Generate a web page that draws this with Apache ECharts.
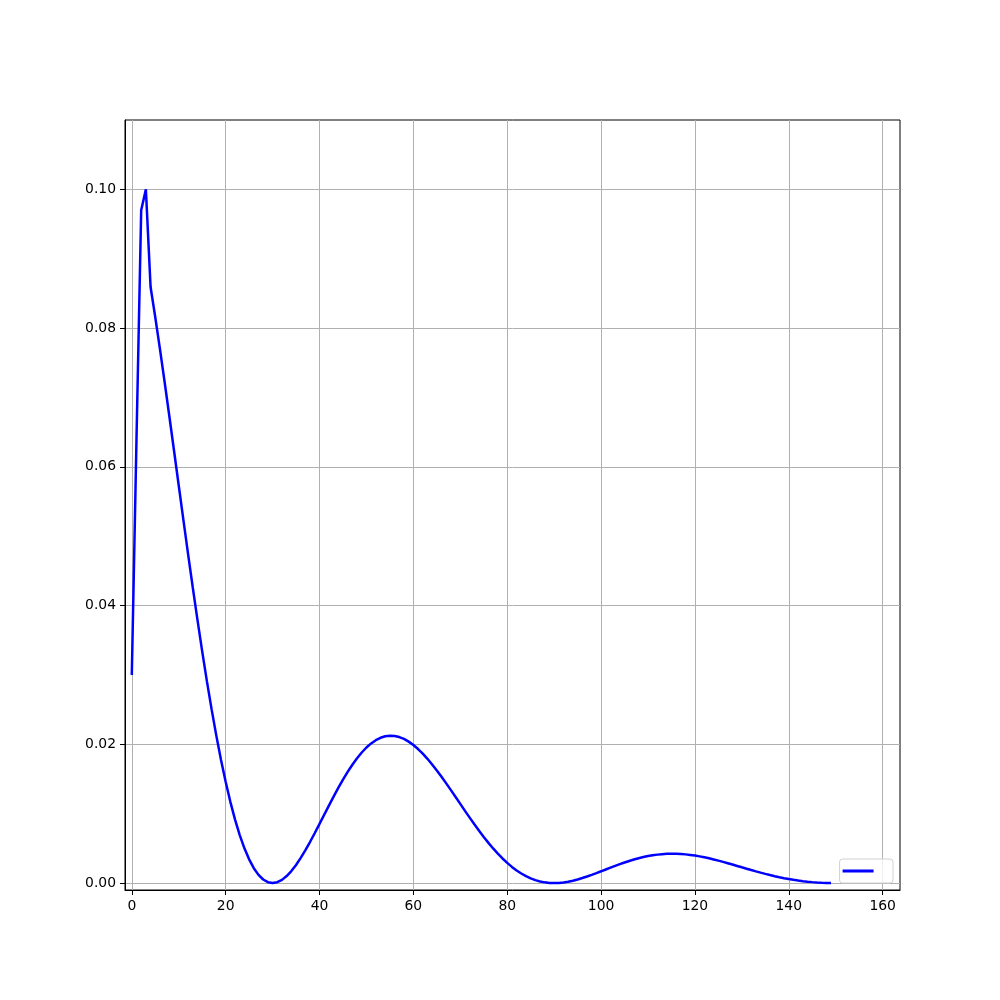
<!DOCTYPE html>
<html>
<head>
<meta charset="utf-8">
<script src="https://cdn.jsdelivr.net/npm/echarts@6/dist/echarts.min.js"></script>
<style>html,body{margin:0;padding:0;background:#fff}#c{width:1000px;height:1000px}</style>
</head>
<body>
<div id="c"></div>
<script>
// y-values at x = 0, 1, 2, ... 149
const values = [
0.030,0.064,0.097,0.100,0.08592,0.08156,0.07697,0.07220,0.06730,0.06232,
0.05731,0.05232,0.04739,0.04257,0.03790,0.03340,0.02911,0.02507,0.02129,0.01779,
0.01460,0.01171,0.009153,0.006918,0.005007,0.003419,0.002148,0.001184,0.000515,0.000126,
0.0,0.000119,0.000462,0.001007,0.001732,0.002613,0.003625,0.004746,0.005952,0.007218,
0.008523,0.009844,0.01116,0.01246,0.01371,0.01490,0.01602,0.01706,0.01799,0.01882,
0.01954,0.02013,0.02060,0.02094,0.02116,0.02125,0.02121,0.02105,0.02078,0.02039,
0.01991,0.01932,0.01866,0.01791,0.01710,0.01623,0.01532,0.01437,0.01340,0.01240,
0.01141,0.01041,0.009433,0.008474,0.007543,0.006648,0.005795,0.004990,0.004237,0.003542,
0.002906,0.002332,0.001822,0.001377,0.000997,0.000681,0.000428,0.000236,0.000102,0.000025,
0.0,0.000024,0.000092,0.000200,0.000345,0.000520,0.000722,0.000945,0.001185,0.001437,
0.001697,0.001960,0.002222,0.002479,0.002729,0.002966,0.003189,0.003395,0.003581,0.003747,
0.003889,0.004007,0.004100,0.004169,0.004211,0.004229,0.004222,0.004191,0.004136,0.004060,
0.003962,0.003846,0.003714,0.003566,0.003404,0.003232,0.003050,0.002861,0.002667,0.002470,
0.002271,0.002074,0.001878,0.001687,0.001502,0.001324,0.001154,0.000993,0.000844,0.000705,
0.000579,0.000464,0.000363,0.000274,0.000198,0.000135,0.000085,0.000047,0.000020,0.000005
];
const xTicks = [0,20,40,60,80,100,120,140,160];
const yTicks = [0,0.02,0.04,0.06,0.08,0.10];
const seriesName = ' ';

const points = values.map((v, i) => [i, v]);
const font = 'DejaVu Sans';
const chart = echarts.init(document.getElementById('c'), null, {renderer: 'canvas'});
chart.setOption({
  animation: false,
  backgroundColor: '#fff',
  grid: {left: 125, right: 100, top: 120, bottom: 110, show: true, borderColor: '#000', borderWidth: 1, backgroundColor: 'transparent'},
  xAxis: {
    type: 'value', min: -1.45, max: 163.7,
    axisLine: {show: true, onZero: false, lineStyle: {color: '#000', width: 1}},
    axisTick: {show: true, length: 5, lineStyle: {color: '#000'}, customValues: xTicks},
    axisLabel: {customValues: xTicks, color: '#000', fontFamily: font, fontSize: 13.9, margin: 9, formatter: v => String(v)},
    splitLine: {show: true, lineStyle: {color: '#b0b0b0', width: 1}}
  },
  yAxis: {
    type: 'value', min: -0.001, max: 0.11,
    axisLine: {show: true, onZero: false, lineStyle: {color: '#000', width: 1}},
    axisTick: {show: true, length: 5, lineStyle: {color: '#000'}, customValues: yTicks},
    axisLabel: {customValues: yTicks, color: '#000', fontFamily: font, fontSize: 13.9, margin: 9, formatter: v => v.toFixed(2)},
    splitLine: {show: true, lineStyle: {color: '#b0b0b0', width: 1}}
  },
  legend: {
    show: true, right: 107, bottom: 117, orient: 'vertical',
    itemWidth: 31, itemHeight: 12, itemGap: 0,
    padding: [5, 10, 5, 3],
    borderColor: '#d0d0d0', borderWidth: 1, borderRadius: 3,
    backgroundColor: 'rgba(255,255,255,0.8)',
    textStyle: {fontFamily: font, fontSize: 13.9},
    data: [{name: seriesName, icon: 'path://M0,0 L31,0 L31,3 L0,3 Z'}]
  },
  series: [{
    name: seriesName, type: 'line', data: points, showSymbol: false, symbol: 'none',
    lineStyle: {color: '#0000ff', width: 2.5}, itemStyle: {color: '#0000ff'}, z: 5
  }]
});
</script>
</body>
</html>
